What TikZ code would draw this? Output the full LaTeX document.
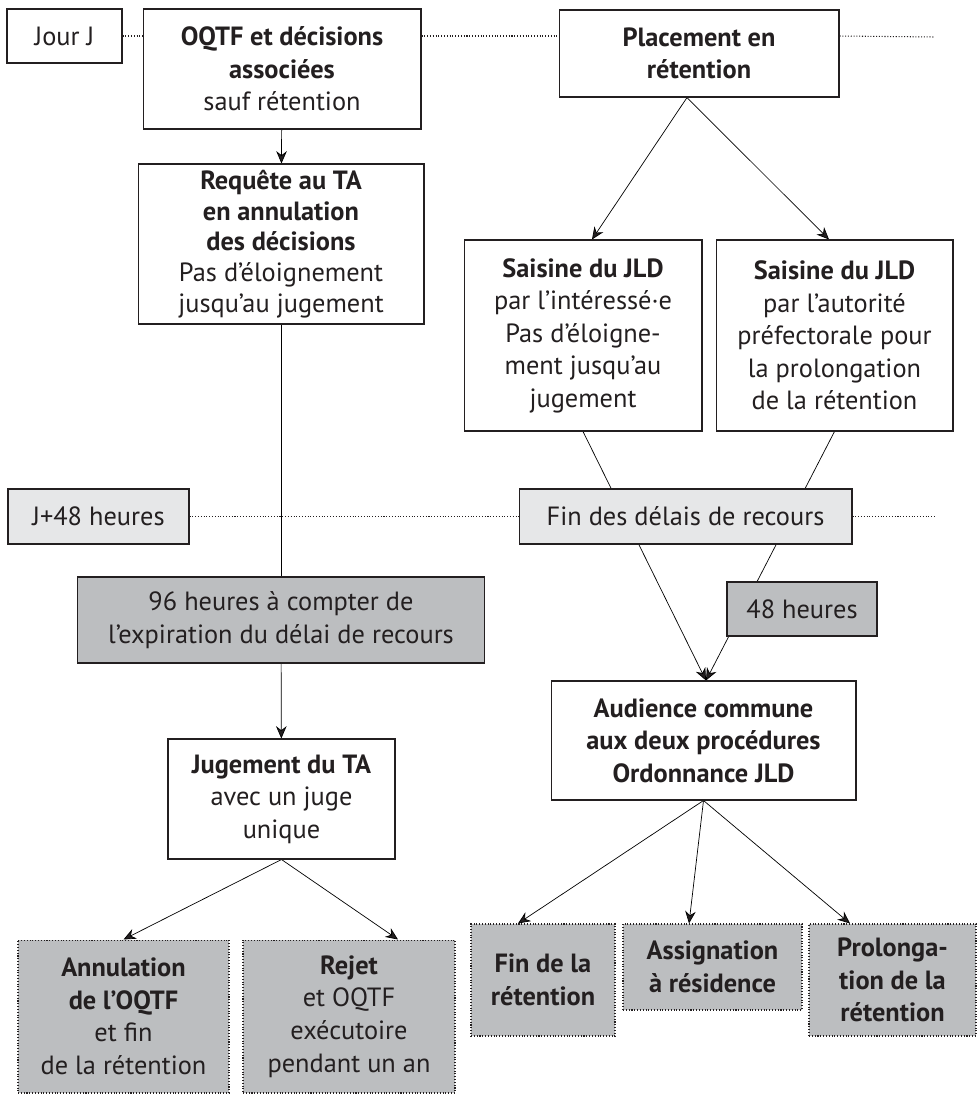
\documentclass[tikz,border=0pt]{standalone}
\usepackage{fontspec}
\setmainfont{PT Sans}
\usetikzlibrary{arrows.meta,backgrounds}
\definecolor{trait}{HTML}{231F20}
\definecolor{grisclair}{HTML}{E6E7E8}
\definecolor{grisfonce}{HTML}{BCBEC0}
\tikzset{
	cadre/.style={draw=trait, line width=0.6pt, fill=white, align=center, inner sep=0pt,
		font=\fontsize{15}{18.5}\selectfont, text=trait},
	delai/.style={cadre, fill=grisclair},
	duree/.style={cadre, fill=grisfonce},
	issue/.style={cadre, fill=grisfonce, densely dotted},
	repere/.style={draw=trait, line width=0.6pt, densely dotted}
}

\begin{document}
\begin{tikzpicture}[x=0.02cm, y=-0.02cm, >={Stealth[length=7pt,width=6pt]}, line width=0.5pt]
				\useasboundingbox (0,0) rectangle (979,1096);
				% jour J
				\node[cadre, minimum width=2.3cm, minimum height=1.08cm] (jour) at (64.5,36) {Jour J};
				\node[cadre, minimum width=5.56cm, minimum height=2.4cm] (oqtf) at (282,69) {\textbf{OQTF et décisions}\\\textbf{associées}\\sauf rétention};
				\node[cadre, minimum width=5.6cm, minimum height=1.74cm] (placement) at (699,53.5) {\textbf{Placement en}\\\textbf{rétention}};
				\node[cadre, minimum width=5.72cm, minimum height=3.2cm, font=\fontsize{15}{17.5}\selectfont] (requete) at (281,244) {\textbf{Requête au TA}\\\textbf{en annulation}\\\textbf{des décisions}\\Pas d’éloignement\\jusqu’au jugement};
				\node[cadre, minimum width=4.76cm, minimum height=3.82cm] (saisineA) at (583,335.5) {\textbf{Saisine du JLD}\\par l’intéressé·e\\Pas d’éloigne-\\ment jusqu’au\\jugement};
				\node[cadre, minimum width=4.74cm, minimum height=3.82cm] (saisineB) at (834.5,335.5) {\textbf{Saisine du JLD}\\par l’autorité\\préfectorale pour\\la prolongation\\de la rétention};
				% J+48 heures
				\node[delai, minimum width=3.62cm, minimum height=1.1cm] (jplus) at (98.5,516.5) {J+48 heures};
				\node[delai, minimum width=6.66cm, minimum height=1.1cm] (findelais) at (685.5,516.5) {Fin des délais de recours};
				\node[duree, minimum width=8.16cm, minimum height=1.72cm] (h96) at (281,620) {96 heures à compter de\\l’expiration du délai de recours};
				\node[duree, minimum width=3cm, minimum height=1.08cm] (h48) at (802,609) {48 heures};
				\node[cadre, minimum width=4.54cm, minimum height=2.4cm] (jugement) at (281.5,799) {\textbf{Jugement du TA}\\avec un juge\\unique};
				\node[cadre, minimum width=6.1cm, minimum height=2.38cm] (audience) at (703.5,740.5) {\textbf{Audience commune}\\\textbf{aux deux procédures}\\\textbf{Ordonnance JLD}};
				% issues
				\node[issue, minimum width=4.22cm, minimum height=3.06cm] (annulation) at (123.5,1016.5) {\textbf{Annulation}\\\textbf{de l’OQTF}\\et fin\\de la rétention};
				\node[issue, minimum width=4.24cm, minimum height=3.06cm] (rejet) at (349,1016.5) {\textbf{Rejet}\\et OQTF\\exécutoire\\pendant un an};
				\node[issue, minimum width=2.88cm, minimum height=2.24cm] (finret) at (543,980) {\textbf{Fin de la}\\\textbf{rétention}};
				\node[issue, minimum width=3.58cm, minimum height=1.72cm] (assign) at (712.5,967) {\textbf{Assignation}\\\textbf{à résidence}};
				\node[issue, minimum width=3.34cm, minimum height=2.24cm] (prolong) at (892.5,980) {\textbf{Prolonga-}\\\textbf{tion de la}\\\textbf{rétention}};
				\coordinate (finhaut) at (935,37);
				\coordinate (finmilieu) at (935,516.5);
				\begin{scope}[on background layer, draw=trait]
					\draw[repere] (jour.east) to (jour.east -| oqtf.west);
					\draw[repere] (oqtf.east |- jour.east) to (placement.west |- jour.east);
					\draw[repere] (placement.east |- jour.east) to (finhaut);
					\draw[repere] (jplus.east) to (findelais.west);
					\draw[repere] (findelais.east) to (finmilieu);
					\draw[->] (oqtf) to (requete);
					\draw (requete) to (h96);
					\draw[->] (h96) to (jugement);
					\draw[->] ([xshift=-0.24cm]placement.south) to ([xshift=0.18cm]saisineA.north);
					\draw[->] ([xshift=-0.24cm]placement.south) to ([xshift=-0.11cm]saisineB.north);
					\draw[->] (saisineA.south) to ([xshift=0.05cm]audience.north);
					\draw[->] (saisineB.south) to ([xshift=0.05cm]audience.north);
					\draw[->] (jugement.south) to (annulation.north);
					\draw[->] (jugement.south) to ([xshift=0.98cm]rejet.north);
					\draw[->] (audience.south) to ([xshift=-0.5cm]finret.north);
					\draw[->] (audience.south) to ([xshift=-0.47cm]assign.north);
					\draw[->] (audience.south) to ([xshift=-0.85cm]prolong.north);
				\end{scope}
			\end{tikzpicture}
\end{document}
